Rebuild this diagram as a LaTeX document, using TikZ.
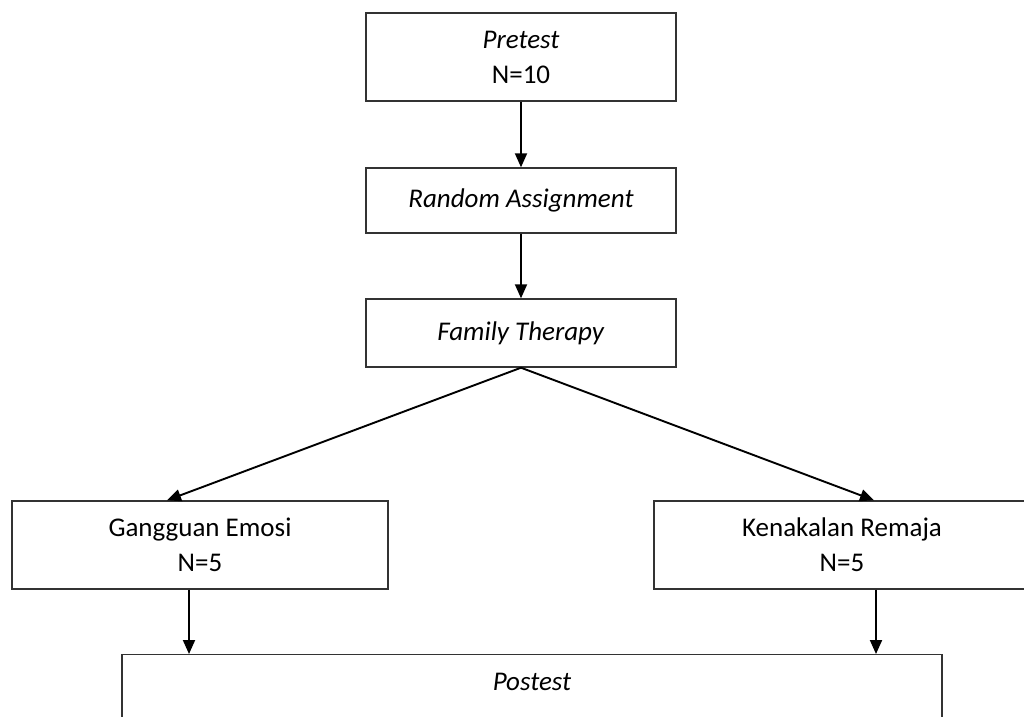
\documentclass[tikz,border=0pt]{standalone}
\usepackage{fontspec}
\setmainfont{Carlito}
\usetikzlibrary{arrows.meta}
\usetikzlibrary{calc}

\tikzset{
    box/.style={draw=black!80, line width=1.4pt, minimum width=310pt, align=center,
        font=\fontsize{27}{35}\selectfont, inner sep=0pt},
    flow/.style={line width=1.9pt, -{Triangle[length=14pt,width=12pt]}}
}

\begin{document}
\begin{tikzpicture}[x=1pt,y=-1pt]
    \useasboundingbox (0,0) rectangle (1024,716);
    \node[box, minimum height=88pt] (pre) at (521,57) {\textit{Pretest}\\N=10};
    \node[box, minimum height=65pt] (rand) at (521,200.5) {\textit{Random Assignment}};
    \node[box, minimum height=68pt] (fam) at (521,333) {\textit{Family Therapy}};
    \node[box, minimum height=88pt, minimum width=376pt] (gang) at (200,545) {Gangguan Emosi\\N=5};
    \node[box, minimum height=88pt, minimum width=376pt] (ken) at (842,545) {Kenakalan Remaja\\N=5};
    \node[box, minimum width=820pt, anchor=north, text height=36pt, text depth=70pt] (post) at (532,654) {\textit{Postest}};
    \draw[flow] (pre) -- (rand);
    \draw[flow] (rand) -- (fam);
    \draw[flow] (fam.south) -- ([xshift=-33pt]gang.north);
    \draw[flow] (fam.south) -- ([xshift=32pt]ken.north);
    \draw[flow] ([xshift=-11pt]gang.south) -- ([xshift=-11pt]gang.south |- post.north);
    \draw[flow] ([xshift=34pt]ken.south) -- ([xshift=34pt]ken.south |- post.north);
\end{tikzpicture}
\end{document}
